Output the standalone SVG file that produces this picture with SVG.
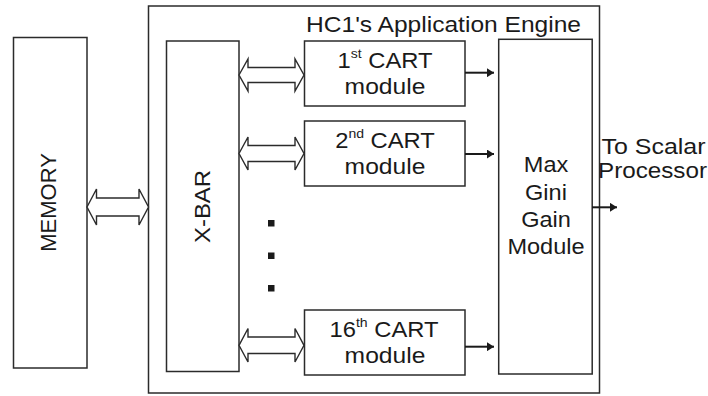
<svg xmlns="http://www.w3.org/2000/svg" width="708" height="396" viewBox="0 0 708 396">
<defs>
<style>
.box{fill:#fff;stroke:#2b2b2b;stroke-width:1.5}
.frame{fill:none;stroke:#2b2b2b;stroke-width:1.5}
.t{font-family:"Liberation Sans",Arial,sans-serif;font-size:22px;fill:#1a1a1a}
.dbl{fill:#fff;stroke:#2b2b2b;stroke-width:1.4;stroke-linejoin:miter}
.sol{fill:none;stroke:#1a1a1a;stroke-width:2}
.dot{fill:#1a1a1a}
</style>
<marker id="ah" markerWidth="8" markerHeight="9" refX="7" refY="4.5" orient="auto" markerUnits="userSpaceOnUse">
<path d="M0,0 L7,4.5 L0,9 Z" fill="#1a1a1a"/>
</marker>
</defs>
<rect width="708" height="396" fill="#fff"/>

<g id="engine">
<rect class="frame" x="148.5" y="6" width="451" height="387"/>
<text class="t" x="306" y="31.5" font-size="23" textLength="275" lengthAdjust="spacingAndGlyphs">HC1's Application Engine</text>
</g>

<g id="memory">
<rect class="box" x="13.5" y="37.5" width="73.5" height="330.5"/>
<text class="t" transform="translate(56,202.5) rotate(-90)" text-anchor="middle">MEMORY</text>
</g>

<g id="xbar">
<rect class="box" x="166.5" y="41" width="72.5" height="330.5"/>
<text class="t" transform="translate(209.5,206.5) rotate(-90)" text-anchor="middle" textLength="73" lengthAdjust="spacingAndGlyphs">X-BAR</text>
</g>

<g id="cart1">
<rect class="box" x="304.5" y="41" width="160.5" height="65"/>
<text class="t" transform="translate(385,67.5) scale(1.08,1)" text-anchor="middle">1<tspan font-size="13" dy="-10">st</tspan><tspan dy="10"> CART</tspan></text>
<text class="t" transform="translate(385,94) scale(1.12,1)" text-anchor="middle">module</text>
</g>

<g id="cart2">
<rect class="box" x="304.5" y="121" width="160.5" height="65"/>
<text class="t" transform="translate(385,147.5) scale(1.08,1)" text-anchor="middle">2<tspan font-size="13" dy="-10">nd</tspan><tspan dy="10"> CART</tspan></text>
<text class="t" transform="translate(385,174) scale(1.12,1)" text-anchor="middle">module</text>
</g>

<g id="cart16">
<rect class="box" x="304.5" y="310" width="160.5" height="65"/>
<text class="t" transform="translate(384,336.5) scale(1.08,1)" text-anchor="middle">16<tspan font-size="13" dy="-10">th</tspan><tspan dy="10"> CART</tspan></text>
<text class="t" transform="translate(385,363) scale(1.12,1)" text-anchor="middle">module</text>
</g>

<g id="ellipsis">
<rect class="dot" x="268" y="220" width="6.5" height="6.5"/>
<rect class="dot" x="268" y="252.5" width="6.5" height="6.5"/>
<rect class="dot" x="268" y="285" width="6.5" height="6.5"/>
</g>

<g id="maxgini">
<rect class="box" x="498.7" y="39.3" width="93.5" height="334.7"/>
<text class="t" transform="translate(546,171.5) scale(1.07,1)" text-anchor="middle">Max</text>
<text class="t" transform="translate(546,199.5) scale(1.07,1)" text-anchor="middle">Gini</text>
<text class="t" transform="translate(546,227) scale(1.07,1)" text-anchor="middle">Gain</text>
<text class="t" transform="translate(546,253.5) scale(1.07,1)" text-anchor="middle">Module</text>
</g>

<g id="output">
<text class="t" x="601.5" y="154" font-size="20" textLength="104" lengthAdjust="spacingAndGlyphs">To Scalar</text>
<text class="t" x="598" y="177.5" font-size="20" textLength="109" lengthAdjust="spacingAndGlyphs">Processor</text>
</g>

<g id="connectors">
<path class="dbl" d="M87,207 L96.5,189 L96.5,198 L139,198 L139,189 L148.5,207 L139,225 L139,216 L96.5,216 L96.5,225 Z"/>
<path class="dbl" d="M239,75 L248,59 L248,67.5 L295,67.5 L295,59 L304,75 L295,91 L295,82.5 L248,82.5 L248,91 Z"/>
<path class="dbl" d="M239,153.5 L248,137 L248,145.5 L295,145.5 L295,137 L304,153.5 L295,170 L295,161.5 L248,161.5 L248,170 Z"/>
<path class="dbl" d="M239,345.3 L248,328.5 L248,337 L295,337 L295,328.5 L304,345.3 L295,362 L295,353.5 L248,353.5 L248,362 Z"/>
<line class="sol" x1="465" y1="72.7" x2="494" y2="72.7" marker-end="url(#ah)"/>
<line class="sol" x1="465" y1="154" x2="494" y2="154" marker-end="url(#ah)"/>
<line class="sol" x1="465" y1="346.7" x2="494" y2="346.7" marker-end="url(#ah)"/>
<line class="sol" x1="592" y1="207.3" x2="617" y2="207.3" marker-end="url(#ah)"/>
</g>
</svg>
